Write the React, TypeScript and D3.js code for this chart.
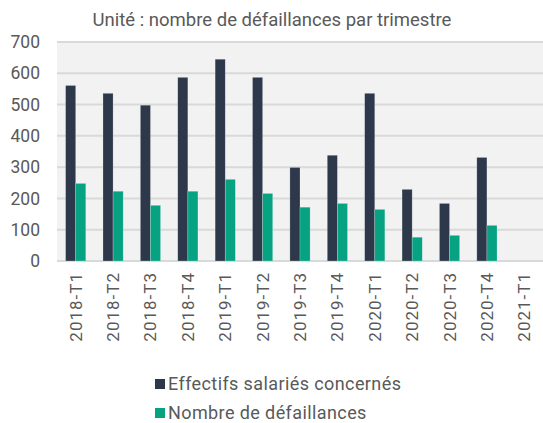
import React from 'react';
import * as d3 from 'd3';

const categories = ['2018-T1', '2018-T2', '2018-T3', '2018-T4', '2019-T1', '2019-T2', '2019-T3', '2019-T4', '2020-T1', '2020-T2', '2020-T3', '2020-T4', '2021-T1'];
const effectifs = [561, 536, 498, 587, 645, 587, 299, 338, 536, 229, 184, 331, null];
const defaillances = [248, 223, 178, 223, 261, 216, 172, 184, 165, 76, 82, 114, null];
const yTicks = [0, 100, 200, 300, 400, 500, 600, 700];
const seriesNames = ['Effectifs salariés concernés', 'Nombre de défaillances'];
const colors = ['#2d394b', '#06a282'];

const width = 543;
const height = 423;
const margin = { top: 42, right: 0, bottom: 162, left: 57 };
const font = 'Roboto, "Noto Sans", sans-serif';
const textColor = '#595959';

export default function App() {
  const chartWidth = width - margin.left - margin.right;
  const chartHeight = height - margin.top - margin.bottom;

  const x = d3.scaleBand().domain(categories).range([0, chartWidth]).paddingInner(0.46).paddingOuter(0.23);
  const x1 = d3.scaleBand().domain(['0', '1']).range([0, x.bandwidth()]);
  const y = d3.scaleLinear().domain([0, 700]).range([chartHeight, 0]);

  const series = [effectifs, defaillances];

  return (
    <svg width={width} height={height} style={{ position: 'absolute', left: 0, top: 0, background: '#fff' }}>
      <text x={272} y={26} textAnchor="middle" fontFamily={font} fontSize={18.5} fill={textColor}>
        Unité : nombre de défaillances par trimestre
      </text>
      <g transform={`translate(${margin.left}, ${margin.top})`}>
        <rect x={0} y={0} width={chartWidth} height={chartHeight} fill="#f2f2f2" />
        {yTicks.map(t => (
          <g key={`tick-${t}`}>
            <line x1={0} x2={chartWidth} y1={y(t)} y2={y(t)} stroke="#d9d9d9" strokeWidth={2} />
            <text x={-17} y={y(t)} dy="0.35em" textAnchor="end" fontFamily={font} fontSize={17.5} fill={textColor}>{t}</text>
          </g>
        ))}
        {categories.map((c, i) => (
          <g key={`cat-${c}`} transform={`translate(${x(c)}, 0)`}>
            {series.map((s, j) => s[i] == null ? null : (
              <rect key={`bar-${j}`} x={x1(String(j))} y={y(s[i] as number)} width={x1.bandwidth()}
                height={chartHeight - y(s[i] as number)} fill={colors[j]} stroke="#ffffff" strokeOpacity={0.35} strokeWidth={0.6} />
            ))}
          </g>
        ))}
        {categories.map(c => {
          const cx = (x(c) as number) + x.bandwidth() / 2;
          return (
            <text key={`lab-${c}`} transform={`translate(${cx + 6}, ${chartHeight + 11}) rotate(-90)`}
              textAnchor="end" fontFamily={font} fontSize={17} fill={textColor} letterSpacing={1}>{c}</text>
          );
        })}
      </g>
      {seriesNames.map((n, j) => (
        <g key={`leg-${j}`} transform={`translate(155, ${384 + j * 29})`}>
          <rect x={0} y={-5} width={10} height={10} fill={colors[j]} />
          <text x={13} y={0} dy="0.35em" fontFamily={font} fontSize={18} fill={textColor} letterSpacing={0.4}>{n}</text>
        </g>
      ))}
    </svg>
  );
}
